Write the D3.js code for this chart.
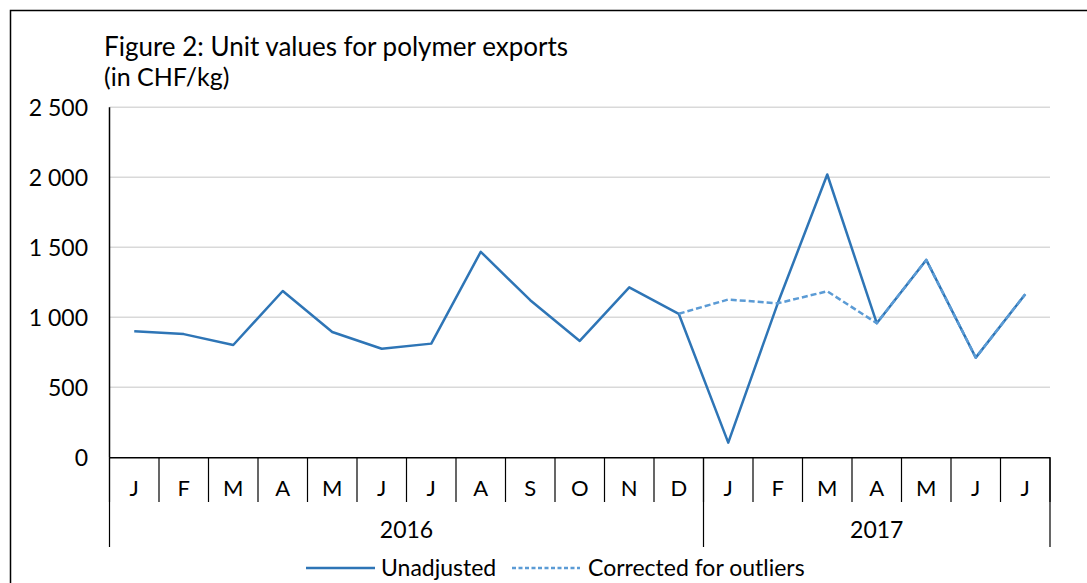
<!DOCTYPE html>
<html>
<head>
<meta charset="utf-8">
<script src="https://cdn.jsdelivr.net/npm/d3@7"></script>
<style>
    body { margin: 0; background: #fff; }
    svg text { font-family: Lato, "Open Sans", sans-serif; fill: #000; }
</style>
</head>
<body>
<script>
(function(){
    // Chart data
    var monthLabels = ["J","F","M","A","M","J","J","A","S","O","N","D",
                       "J","F","M","A","M","J","J"];
    var yearLabels = ["2016", "2017"];
    var yearMonthCounts = [12, 7];
    var unadjusted = [900, 880, 802, 1188, 895, 775, 812, 1468, 1122, 831, 1214, 1025,
                      105, 1100, 2020, 958, 1410, 712, 1165];
    var corrected = [null, null, null, null, null, null, null, null, null, null, null, 1025,
                     1127, 1100, 1186, 958, 1410, 712, 1165];
    var yTicks = [0, 500, 1000, 1500, 2000, 2500];
    var seriesNames = ["Unadjusted", "Corrected for outliers"];

    var width = 1087, height = 583;
    var plot = { left: 109.5, right: 1050, top: 107.3, bottom: 457.3 };

    var svg = d3.select("body").append("svg")
        .attr("width", width)
        .attr("height", height);

    // Frame (only top and left edges are in view)
    svg.append("path")
        .attr("d", "M10.5," + height + "V10.5H" + width)
        .attr("fill", "none")
        .attr("stroke", "#000")
        .attr("stroke-width", 1.5);

    // Title
    svg.append("text")
        .attr("x", 104)
        .attr("y", 56)
        .style("font-size", "26px")
        .text("Figure 2: Unit values for polymer exports");
    svg.append("text")
        .attr("x", 104)
        .attr("y", 86)
        .style("font-size", "25px")
        .text("(in CHF/kg)");

    // Scales
    var xScale = d3.scaleBand()
        .domain(d3.range(monthLabels.length))
        .range([plot.left, plot.right]);
    var yScale = d3.scaleLinear()
        .domain([0, 2500])
        .range([plot.bottom, plot.top]);

    // Gridlines + y labels
    svg.append("g")
        .selectAll("line")
        .data(yTicks.filter(function(d){ return d > 0; }))
        .enter()
        .append("line")
        .attr("x1", plot.left)
        .attr("x2", plot.right)
        .attr("y1", function(d){ return yScale(d); })
        .attr("y2", function(d){ return yScale(d); })
        .attr("stroke", "#d9d9d9")
        .attr("stroke-width", 1.5);

    svg.append("g")
        .selectAll("text")
        .data(yTicks)
        .enter()
        .append("text")
        .attr("x", 88)
        .attr("y", function(d){ return yScale(d); })
        .attr("dy", "0.36em")
        .attr("text-anchor", "end")
        .style("font-size", "23px")
        .text(function(d){ return d3.format(",")(d).replace(",", " "); });

    // Y axis line
    svg.append("line")
        .attr("x1", plot.left).attr("x2", plot.left)
        .attr("y1", plot.top).attr("y2", plot.bottom)
        .attr("stroke", "#000").attr("stroke-width", 1.5);

    // X axis line
    svg.append("line")
        .attr("x1", plot.left).attr("x2", plot.right)
        .attr("y1", plot.bottom + 0.5).attr("y2", plot.bottom + 0.5)
        .attr("stroke", "#000").attr("stroke-width", 1.5);

    // Month separators and labels
    var monthTickBottom = 502, yearTickBottom = 547;
    svg.append("g")
        .selectAll("line")
        .data(d3.range(monthLabels.length + 1))
        .enter()
        .append("line")
        .attr("x1", function(i){ return plot.left + i * xScale.step(); })
        .attr("x2", function(i){ return plot.left + i * xScale.step(); })
        .attr("y1", plot.bottom)
        .attr("y2", monthTickBottom)
        .attr("stroke", "#000")
        .attr("stroke-width", 1.2);

    svg.append("g")
        .selectAll("text")
        .data(monthLabels)
        .enter()
        .append("text")
        .attr("x", function(d, i){ return xScale(i) + xScale.bandwidth() / 2; })
        .attr("y", 488)
        .attr("dy", "0.36em")
        .attr("text-anchor", "middle")
        .style("font-size", "22px")
        .text(function(d){ return d; });

    // Year groups
    var yearStarts = [0];
    yearMonthCounts.forEach(function(c, i){ yearStarts.push(yearStarts[i] + c); });
    svg.append("g")
        .selectAll("line")
        .data(yearStarts)
        .enter()
        .append("line")
        .attr("x1", function(s){ return plot.left + s * xScale.step(); })
        .attr("x2", function(s){ return plot.left + s * xScale.step(); })
        .attr("y1", plot.bottom)
        .attr("y2", yearTickBottom)
        .attr("stroke", "#000")
        .attr("stroke-width", 1.2);

    svg.append("g")
        .selectAll("text")
        .data(yearLabels)
        .enter()
        .append("text")
        .attr("x", function(d, i){
            return plot.left + (yearStarts[i] + yearMonthCounts[i] / 2) * xScale.step();
        })
        .attr("y", 530)
        .attr("dy", "0.36em")
        .attr("text-anchor", "middle")
        .style("font-size", "23px")
        .text(function(d){ return d; });

    // Lines
    var line = d3.line()
        .defined(function(d){ return d != null; })
        .x(function(d, i){ return xScale(i) + xScale.bandwidth() / 2; })
        .y(function(d){ return yScale(d); });

    svg.append("path")
        .datum(unadjusted)
        .attr("d", line)
        .attr("fill", "none")
        .attr("stroke", "#2e75b6")
        .attr("stroke-width", 2.5)
        .attr("stroke-linejoin", "round");

    svg.append("path")
        .datum(corrected)
        .attr("d", line)
        .attr("fill", "none")
        .attr("stroke", "#5b9bd5")
        .attr("stroke-width", 2.5)
        .attr("stroke-dasharray", "6,3")
        .attr("stroke-linejoin", "round");

    // Legend
    var legend = svg.append("g");
    legend.append("line")
        .attr("x1", 306).attr("x2", 375)
        .attr("y1", 568).attr("y2", 568)
        .attr("stroke", "#2e75b6").attr("stroke-width", 2.5);
    legend.append("text")
        .attr("x", 381).attr("y", 568).attr("dy", "0.36em")
        .style("font-size", "23px")
        .text(seriesNames[0]);
    legend.append("line")
        .attr("x1", 512).attr("x2", 580)
        .attr("y1", 568).attr("y2", 568)
        .attr("stroke", "#5b9bd5").attr("stroke-width", 2.5)
        .attr("stroke-dasharray", "4,2.5");
    legend.append("text")
        .attr("x", 588).attr("y", 568).attr("dy", "0.36em")
        .style("font-size", "23px")
        .text(seriesNames[1]);
})();
</script>
</body>
</html>
